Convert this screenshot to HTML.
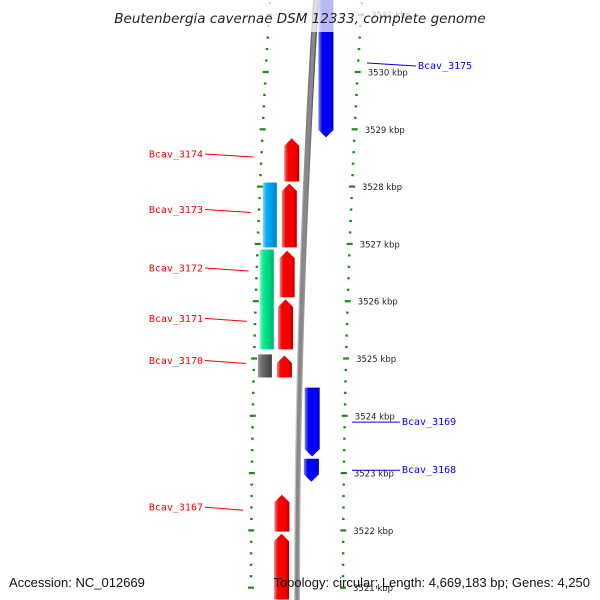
<!DOCTYPE html>
<html><head><meta charset="utf-8"><style>
html,body{margin:0;padding:0;background:#fff;width:600px;height:600px;overflow:hidden;}
svg{display:block;font-family:"Liberation Sans",sans-serif;}
</style></head><body>
<svg id="map" width="600" height="600" viewBox="0 0 600 600" overflow="hidden">
<defs>
<linearGradient id="gRed" x1="0" x2="1"><stop offset="0" stop-color="#ff8080"/><stop offset="0.25" stop-color="#ff0000"/><stop offset="0.8" stop-color="#ee0000"/><stop offset="1" stop-color="#a00000"/></linearGradient>
<linearGradient id="gBlue" x1="0" x2="1"><stop offset="0" stop-color="#8080ff"/><stop offset="0.25" stop-color="#0000ff"/><stop offset="0.8" stop-color="#0000ee"/><stop offset="1" stop-color="#0000a0"/></linearGradient>
<linearGradient id="gCyan" x1="0" x2="1"><stop offset="0" stop-color="#80d8ff"/><stop offset="0.25" stop-color="#00b4ff"/><stop offset="1" stop-color="#0080c0"/></linearGradient>
<linearGradient id="gGreen" x1="0" x2="1"><stop offset="0" stop-color="#80ffc8"/><stop offset="0.25" stop-color="#00f090"/><stop offset="1" stop-color="#00b070"/></linearGradient>
<linearGradient id="gGray" x1="0" x2="1"><stop offset="0" stop-color="#a0a0a0"/><stop offset="0.25" stop-color="#707070"/><stop offset="1" stop-color="#404040"/></linearGradient>
<linearGradient id="gBack" x1="0" x2="1"><stop offset="0" stop-color="#c8c8c8"/><stop offset="0.5" stop-color="#808080"/><stop offset="1" stop-color="#505050"/></linearGradient>
</defs>
<g id="layer"></g>
<rect x="0" y="0" width="600" height="32" fill="#fff" opacity="0.72"/>
<text x="300" y="23" text-anchor="middle" font-size="13.5" font-style="italic" fill="#222" font-family="DejaVu Sans, sans-serif">Beutenbergia cavernae DSM 12333, complete genome</text>
<text x="9" y="587" font-size="13" fill="#111">Accession: NC_012669</text>
<text x="590" y="587" font-size="13" fill="#111" text-anchor="end">Topology: circular; Length: 4,669,183 bp; Genes: 4,250</text>
</svg>
<script>
// data (kbp)
const geneNames = ["Bcav_3175","Bcav_3174","Bcav_3173","Bcav_3172","Bcav_3171","Bcav_3170","Bcav_3169","Bcav_3168","Bcav_3167","Bcav_3166"];
const geneStart = [3528.85,3528.08,3526.93,3526.06,3525.15,3524.66,3523.28,3522.84,3521.97,3520.60];
const geneEnd   = [3531.60,3528.85,3528.06,3526.89,3526.04,3525.06,3524.50,3523.26,3522.63,3521.95];
const geneStrand = [-1,1,1,1,1,1,-1,-1,1,1];
const geneLabelShown = [1,1,1,1,1,1,1,1,1,0];
const boxStart = [3526.93,3525.15,3524.66];
const boxEnd   = [3528.08,3526.91,3525.08];
const boxFill  = ["url(#gCyan)","url(#gGreen)","url(#gGray)"];
const tickMajor = [3531,3530,3529,3528,3527,3526,3525,3524,3523,3522,3521];

const NS="http://www.w3.org/2000/svg";
const layer=document.getElementById('layer');
function yOf(k){return 72+(3530-k)*57.3;}
function bx(y){return 297+19*Math.pow(y-600,2)/360000;}
function el(t,a,p){const e=document.createElementNS(NS,t);for(const k in a)e.setAttribute(k,a[k]);(p||layer).appendChild(e);return e;}

let d="";for(let y=-5;y<=600;y+=5){d+=(y===-5?"M":"L")+bx(y).toFixed(2)+" "+y;}
const bb=el('path',{d:d,stroke:"url(#gBack)",'stroke-width':6,fill:"none"});


const bb2=el('path',{d:d,stroke:"#888",'stroke-width':3.5,fill:"none"});



for(let b=3520000;b<=3531600;b+=200){
  const k=b/1000,y=yOf(k);if(y<-5||y>598)continue;
  const major=(b%1000===0);const c=bx(y);
  [-46,46].forEach(off=>{
    const w=major?6:2.5;
    const t=el('line',{x1:c+off-w/2,x2:c+off+w/2,y1:y,y2:y,stroke:"#1a8a1a",'stroke-width':2.2});
    
    
  });
}
tickMajor.forEach(k=>{
  const y=yOf(k);if(y>598)return;const c=bx(y);
  const t=el('text',{x:c+56,y:y+3.5,'font-size':8.5,fill:"#222",'font-family':'"DejaVu Sans",sans-serif'});
  t.textContent=k+" kbp";
  
  
});

boxStart.forEach((s,i)=>{
  const y1=yOf(boxEnd[i]),y2=yOf(s),c=bx((y1+y2)/2);
  const r=el('rect',{x:c-42,y:y1+0.5,width:14,height:y2-y1-1,fill:boxFill[i]});
  
  
});

geneStart.forEach((s,i)=>{
  const yTop=yOf(geneEnd[i]),yBot=Math.min(yOf(s),600),c=bx((yTop+yBot)/2);
  const fwd=geneStrand[i]>0;
  const x1=fwd?c-23:c+6,x2=fwd?c-8:c+21,xm=(x1+x2)/2,h=Math.min(8,(yBot-yTop)/2);
  let p;
  if(fwd)p=`M${x1} ${yBot-0.5}L${x1} ${yTop+h}L${xm} ${yTop+0.5}L${x2} ${yTop+h}L${x2} ${yBot-0.5}Z`;
  else p=`M${x1} ${yTop+0.5}L${x2} ${yTop+0.5}L${x2} ${yBot-h}L${xm} ${yBot-0.5}L${x1} ${yBot-h}Z`;
  const g=el('path',{d:p,fill:fwd?"url(#gRed)":"url(#gBlue)"});
  
  
  if(!geneLabelShown[i])return;
  const ym=(yTop+yBot)/2;
  const col=fwd?"#ff0000":"#0000ff";
  const mono='"DejaVu Sans Mono","Liberation Mono",monospace';
  if(fwd){
    const l=el('line',{x1:205,y1:ym-6,x2:c-54,y2:ym-3,stroke:col,'stroke-width':1});
    
    
    const t=el('text',{x:203,y:ym-2.5,'font-size':10,fill:col,'text-anchor':'end','font-family':mono});
    t.textContent=geneNames[i];
    
    
  }else{
    const top=i===0;
    const yy=top?63:ym;
    const lx1=top?367:352, lx2=top?416:400;
    const l=el('line',{x1:lx1,y1:yy,x2:lx2,y2:yy+(top?3:0),stroke:col,'stroke-width':1});
    
    
    const t=el('text',{x:lx2+2,y:yy+(top?6:3),'font-size':10,fill:col,'font-family':mono});
    t.textContent=geneNames[i];
    
    
  }
});
</script>
</body></html>
